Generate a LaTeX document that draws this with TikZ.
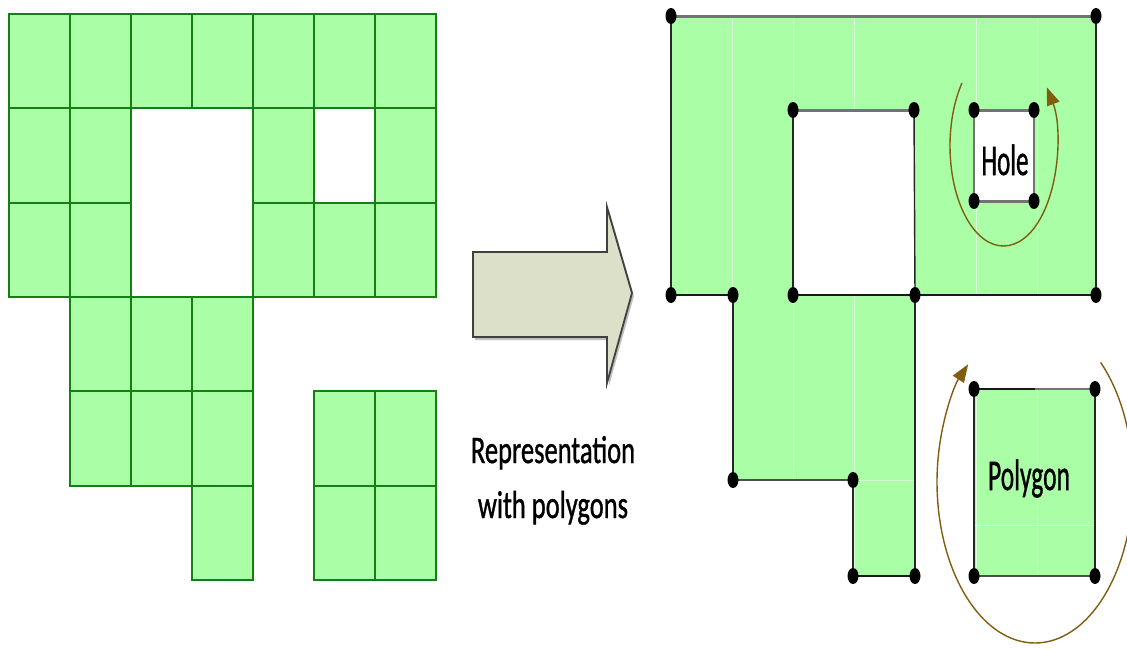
\documentclass[tikz,border=0pt]{standalone}
\usepackage{fontspec}
\setmainfont[FakeBold=1.2]{Carlito}
\usepackage{graphicx}
\usetikzlibrary{arrows.meta}
\definecolor{cellfill}{RGB}{170,255,166}
\definecolor{cellline}{RGB}{20,128,20}
\definecolor{loopcol}{RGB}{130,92,15}
\definecolor{arrowfill}{RGB}{220,224,200}
\definecolor{edgegray}{RGB}{115,115,115}
\begin{document}
\begin{tikzpicture}[x=1pt,y=-1pt,
  cell/.style={fill=cellfill,draw=cellline,line width=2pt},
  thinedge/.style={draw=black!85,line width=1.4pt},
  boldedge/.style={draw=black!90,line width=2pt},
  grayedge/.style={draw=edgegray,line width=3pt},
  looparrow/.style={draw=loopcol,line width=1.4pt,-{Triangle[length=18pt,width=13pt]}},
  label/.style={text=black,inner sep=0pt,anchor=base}]
\useasboundingbox (0,0) rectangle (1127,648);
\clip (0,0) rectangle (1127,648);

% ---------- raster grid ----------
\foreach \c/\r in {0/0,1/0,2/0,3/0,4/0,5/0,6/0,
                   0/1,1/1,4/1,6/1,
                   0/2,1/2,4/2,5/2,6/2,
                   1/3,2/3,3/3,
                   1/4,2/4,3/4,5/4,6/4,
                   3/5,5/5,6/5}{
  \pgfmathsetmacro{\xa}{9+61*\c}
  \pgfmathsetmacro{\xb}{9+61*(\c+1)}
  \pgfmathsetmacro{\ya}{14+94.33*\r}
  \pgfmathsetmacro{\yb}{14+94.33*(\r+1)}
  \path[cell] (\xa,\ya) rectangle (\xb,\yb);
}

% ---------- block arrow ----------
\path[fill=black,opacity=0.25] (475,255) -- (609,255) -- (609,210) -- (634,296)
  -- (609,386) -- (609,340) -- (475,340) -- cycle;
\path[fill=arrowfill,draw=black!75,line width=1.8pt,line join=miter]
  (473,252) -- (607,252) -- (607,207) -- (632,293) -- (607,383) -- (607,337)
  -- (473,337) -- cycle;
\node[label,font=\fontsize{39}{39}\selectfont] (rep1) at (553,463)
  {\scalebox{0.68}[1]{Representation}};
\node[label,font=\fontsize{39}{39}\selectfont] (rep2) at (553,518)
  {\scalebox{0.68}[1]{with polygons}};

% ---------- polygon vertices ----------
\coordinate (A) at (671,16);  \coordinate (B) at (1096,16);
\coordinate (C) at (1096,295); \coordinate (D) at (915,295);
\coordinate (E) at (915,576); \coordinate (F) at (853,576);
\coordinate (G) at (853,480); \coordinate (H) at (733,480);
\coordinate (I) at (733,295); \coordinate (J) at (671,295);
% large hole
\coordinate (K) at (793,110); \coordinate (L) at (914,110);
\coordinate (N) at (793,295);
% small hole
\coordinate (P) at (974,110); \coordinate (Q) at (1034,110);
\coordinate (R) at (1034,201); \coordinate (S) at (974,201);
% separate square polygon
\coordinate (T) at (974,389); \coordinate (U) at (1095,389);
\coordinate (V) at (1095,576); \coordinate (W) at (974,576);

% fills
\fill[cellfill,even odd rule]
  (A) -- (B) -- (C) -- (D) -- (E) -- (F) -- (G) -- (H) -- (I) -- (J) -- cycle
  (K) -- (L) -- (D) -- (N) -- cycle
  (P) -- (Q) -- (R) -- (S) -- cycle;
\fill[cellfill] (T) -- (U) -- (V) -- (W) -- cycle;

% faint traces of the former cell borders
\begin{scope}
  \clip (A) -- (B) -- (C) -- (D) -- (E) -- (F) -- (G) -- (H) -- (I) -- (J) -- cycle
        (T) -- (U) -- (V) -- (W) -- cycle;
  \foreach \x in {732,793,854,976,1037}
    \draw[white,opacity=0.55,line width=0.8pt] (\x,0) -- (\x,648);
  \draw[white,opacity=0.55,line width=0.8pt] (853,480) -- (915,480);
  \draw[white,opacity=0.55,line width=0.8pt] (974,525) -- (1095,525);
\end{scope}

% outer boundary
\draw[grayedge] (A) -- (B);
\draw[thinedge] (B) -- (C);
\draw[boldedge] (C) -- (D);
\draw[thinedge] (D) -- (E);
\draw[boldedge] (E) -- (F);
\draw[thinedge] (F) -- (G);
\draw[boldedge,draw=black!70,line width=2.4pt] (G) -- (H);
\draw[thinedge] (H) -- (I);
\draw[boldedge] (I) -- (J);
\draw[thinedge] (J) -- (A);
% large hole
\draw[grayedge] (K) -- (L);
\draw[thinedge] (L) -- (D);
\draw[boldedge] (D) -- (N);
\draw[thinedge] (N) -- (K);
% small hole
\draw[grayedge] (P) -- (Q);
\draw[grayedge,line width=2pt] (Q) -- (R);
\draw[grayedge] (R) -- (S);
\draw[grayedge,line width=2pt] (S) -- (P);
% square polygon
\draw[boldedge,line width=2.4pt] (T) -- (1035,389);
\draw[grayedge,line width=2.4pt] (1035,389) -- (U);
\draw[thinedge] (U) -- (V);
\draw[boldedge,draw=black!70,line width=2.6pt] (V) -- (W);
\draw[thinedge] (W) -- (T);

% vertex markers
\foreach \v in {A,B,C,D,E,F,G,H,I,J,K,L,N,P,Q,R,S,T,U,V,W}
  \fill[black] (\v) ellipse [x radius=5.5, y radius=8];

% orientation loops
\draw[looparrow] (1003.5,146) ++(219:53.5 and 100)
  arc[start angle=219, end angle=-36, x radius=53.5, y radius=100];
\draw[looparrow] (1035,482) ++(-48:98 and 161)
  arc[start angle=-48, end angle=227, x radius=98, y radius=161];

% labels
\node[label,font=\fontsize{44}{44}\selectfont] (holeText) at (1005,175)
  {\scalebox{0.57}[1]{Hole}};
\node[label,font=\fontsize{44}{44}\selectfont] (polyText) at (1029,490)
  {\scalebox{0.58}[1]{Polygon}};
\end{tikzpicture}
\end{document}
